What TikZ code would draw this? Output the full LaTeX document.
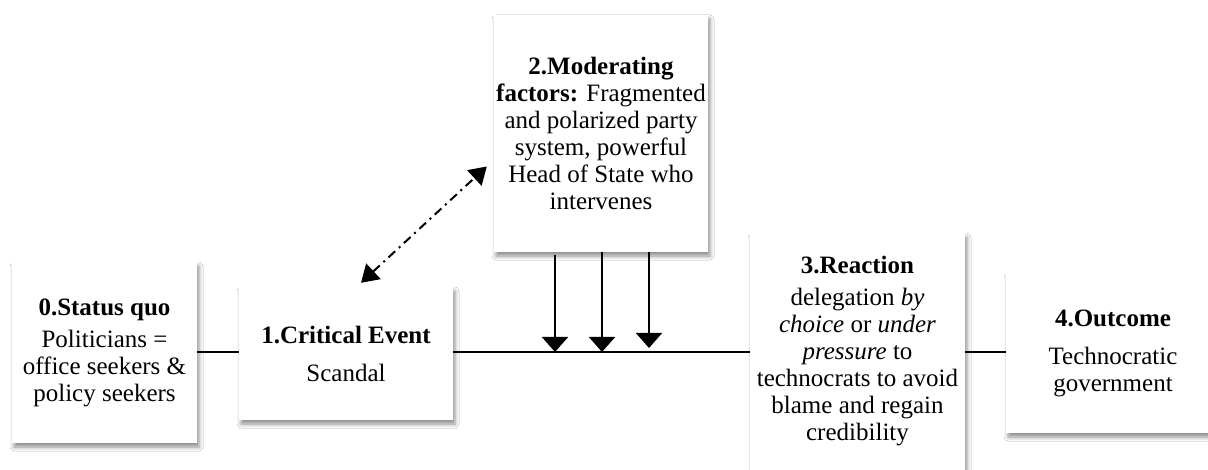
\documentclass[tikz,border=0pt]{standalone}
\usepackage{fontspec}
\setmainfont{Liberation Serif}
\usetikzlibrary{arrows.meta,shadows.blur,calc}
\begin{document}
\begin{tikzpicture}[x=1pt,y=-1pt,
  box/.style={fill=white, align=center, inner sep=2pt,
    font=\fontsize{25}{27}\selectfont,
    blur shadow={shadow xshift=2pt, shadow yshift=-4pt, shadow blur radius=4pt, shadow opacity=45}},
  link/.style={line width=1.5pt},
  down/.style={line width=1.8pt,-{Triangle[length=15pt,width=26pt]}},
  dd/.style={line width=2pt, dash pattern=on 9pt off 5pt on 2pt off 5pt,
    {Triangle[length=17pt,width=21pt]}-{Triangle[length=17pt,width=21pt]}}]
\useasboundingbox[fill=white] (0,0) rectangle (1208,470);

\node[box, minimum width=185pt, minimum height=181pt] (b0) at (104.5,352.5)
  {\textbf{0.Status quo}\\[5pt] Politicians =\\ office seekers \&\\ policy seekers};
\node[box, minimum width=214pt, minimum height=133pt] (b1) at (346,353.5)
  {\textbf{1.Critical Event}\\[11pt] Scandal};
\node[box, minimum width=214pt, minimum height=237pt] (b2) at (601,133.5)
  {\textbf{2.Moderating}\\ \textbf{factors:} Fragmented\\ and polarized party\\ system, powerful\\ Head of State who\\ intervenes};
\node[box, minimum width=215pt, minimum height=260pt, anchor=north] (b3) at (857.5,233)
  {\textbf{3.Reaction}\\[5pt] delegation \emph{by}\\ \emph{choice} or \emph{under}\\ \emph{pressure} to\\ technocrats to avoid\\ blame and regain\\ credibility\rule[-30pt]{0pt}{0pt}};
\node[box, minimum width=214pt, minimum height=160pt] (b4) at (1113,353)
  {\textbf{4.Outcome}\\[11pt] Technocratic\\ government};

\coordinate (m1) at (555,352);
\coordinate (m2) at (602,352);
\coordinate (m3) at (649,348);

\draw[link] (b0.east |- 0,352) -- (b1.west |- 0,352);
\draw[link] (b1.east |- 0,352) -- (b3.west |- 0,352);
\draw[link] (b3.east |- 0,352) -- (b4.west |- 0,352);

\draw[down] ([yshift=-3pt]b2.south -| m1) -- (m1);
\draw[down] (b2.south -| m2) -- (m2);
\draw[down] (b2.south -| m3) -- (m3);

\draw[dd] ([xshift=15pt,yshift=4pt]b1.north) -- ([xshift=-7pt,yshift=-33pt]b2.west);
\end{tikzpicture}
\end{document}
